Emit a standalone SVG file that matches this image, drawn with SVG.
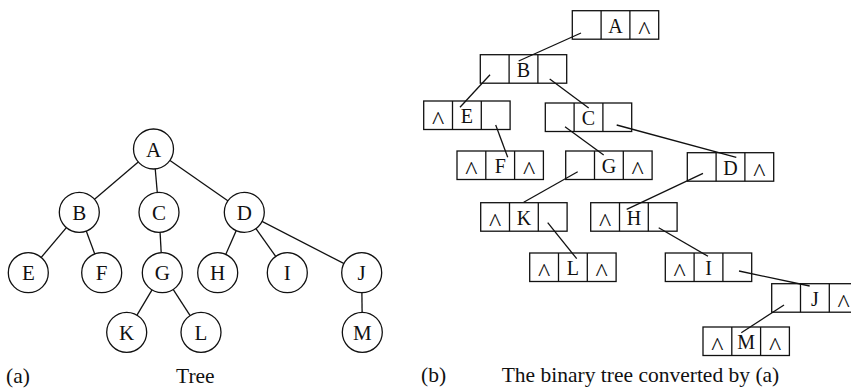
<svg xmlns="http://www.w3.org/2000/svg" xmlns:xlink="http://www.w3.org/1999/xlink" width="851" height="390" viewBox="0 0 851 390">
  <style>
    .edge { stroke: #111; stroke-width: 1.3; fill: none; }
    .circ { fill: #fff; stroke: #111; stroke-width: 1.3; }
    .box { fill: #fff; stroke: #111; stroke-width: 1.3; }
    .lbl { font-family: "Liberation Serif", "Times New Roman", serif; font-size: 20px; fill: #111; text-anchor: middle; }
    .clbl { font-family: "Liberation Serif", "Times New Roman", serif; font-size: 21px; fill: #111; text-anchor: middle; }
    .nil { font-family: "Liberation Serif", "Times New Roman", serif; font-size: 26px; fill: #111; text-anchor: middle; }
    .cap { font-family: "Liberation Serif", "Times New Roman", serif; font-size: 21.5px; fill: #111; }
  </style>
  <defs>
    <!-- three-field node: left child | data | right sibling -->
    <g id="cell3">
      <rect class="box" x="0" y="0" width="86.4" height="28.5"/>
      <line class="edge" x1="28.8" y1="0" x2="28.8" y2="28.5"/>
      <line class="edge" x1="57.6" y1="0" x2="57.6" y2="28.5"/>
    </g>
  </defs>
  <rect width="851" height="390" fill="#fff"/>

  <!-- (a) general tree -->
  <g id="tree-edges">
    <line class="edge" x1="153.5" y1="149" x2="79.3" y2="212.3"/>
    <line class="edge" x1="153.5" y1="149" x2="159" y2="212.3"/>
    <line class="edge" x1="153.5" y1="149" x2="244.3" y2="212.3"/>
    <line class="edge" x1="79.3" y1="212.3" x2="28.3" y2="272.7"/>
    <line class="edge" x1="79.3" y1="212.3" x2="101.7" y2="272.7"/>
    <line class="edge" x1="159" y1="212.3" x2="162.3" y2="272.7"/>
    <line class="edge" x1="244.3" y1="212.3" x2="217.7" y2="272.7"/>
    <line class="edge" x1="244.3" y1="212.3" x2="287.3" y2="272.7"/>
    <line class="edge" x1="244.3" y1="212.3" x2="361.7" y2="272.7"/>
    <line class="edge" x1="162.3" y1="272.7" x2="126.7" y2="332.3"/>
    <line class="edge" x1="162.3" y1="272.7" x2="201" y2="332.3"/>
    <line class="edge" x1="361.7" y1="272.7" x2="362.3" y2="332.3"/>
  </g>
  <g id="tA"><circle class="circ" cx="153.5" cy="149" r="20"/><text class="clbl" x="153.5" y="156.5">A</text></g>
  <g id="tB"><circle class="circ" cx="79.3" cy="212.3" r="20"/><text class="clbl" x="79.3" y="219.8">B</text></g>
  <g id="tC"><circle class="circ" cx="159" cy="212.3" r="20"/><text class="clbl" x="159" y="219.8">C</text></g>
  <g id="tD"><circle class="circ" cx="244.3" cy="212.3" r="20"/><text class="clbl" x="244.3" y="219.8">D</text></g>
  <g id="tE"><circle class="circ" cx="28.3" cy="272.7" r="20"/><text class="clbl" x="28.3" y="280.2">E</text></g>
  <g id="tF"><circle class="circ" cx="101.7" cy="272.7" r="20"/><text class="clbl" x="101.7" y="280.2">F</text></g>
  <g id="tG"><circle class="circ" cx="162.3" cy="272.7" r="20"/><text class="clbl" x="162.3" y="280.2">G</text></g>
  <g id="tH"><circle class="circ" cx="217.7" cy="272.7" r="20"/><text class="clbl" x="217.7" y="280.2">H</text></g>
  <g id="tI"><circle class="circ" cx="287.3" cy="272.7" r="20"/><text class="clbl" x="287.3" y="280.2">I</text></g>
  <g id="tJ"><circle class="circ" cx="361.7" cy="272.7" r="20"/><text class="clbl" x="361.7" y="280.2">J</text></g>
  <g id="tK"><circle class="circ" cx="126.7" cy="332.3" r="20"/><text class="clbl" x="126.7" y="339.8">K</text></g>
  <g id="tL"><circle class="circ" cx="201" cy="332.3" r="20"/><text class="clbl" x="201" y="339.8">L</text></g>
  <g id="tM"><circle class="circ" cx="362.3" cy="332.3" r="20"/><text class="clbl" x="362.3" y="339.8">M</text></g>

  <text class="cap" x="6" y="383">(a)</text>
  <text class="cap" x="176" y="383">Tree</text>

  <!-- (b) binary tree nodes (text baseline at +22, nil mark at +28) -->
  <g id="bA" transform="translate(572.3,10.7)"><use xlink:href="#cell3"/><text class="lbl" x="43.2" y="22">A</text><text class="nil" x="72" y="28">^</text></g>
  <g id="bB" transform="translate(480.3,54.7)"><use xlink:href="#cell3"/><text class="lbl" x="43.2" y="22">B</text></g>
  <g id="bE" transform="translate(423.7,101)"><use xlink:href="#cell3"/><text class="nil" x="14.4" y="28">^</text><text class="lbl" x="43.2" y="22">E</text></g>
  <g id="bC" transform="translate(545.3,103)"><use xlink:href="#cell3"/><text class="lbl" x="43.2" y="22">C</text></g>
  <g id="bF" transform="translate(457,151)"><use xlink:href="#cell3"/><text class="nil" x="14.4" y="28">^</text><text class="lbl" x="43.2" y="22">F</text><text class="nil" x="72" y="28">^</text></g>
  <g id="bG" transform="translate(565.7,151)"><use xlink:href="#cell3"/><text class="lbl" x="43.2" y="22">G</text><text class="nil" x="72" y="28">^</text></g>
  <g id="bD" transform="translate(687.3,152.7)"><use xlink:href="#cell3"/><text class="lbl" x="43.2" y="22">D</text><text class="nil" x="72" y="28">^</text></g>
  <g id="bK" transform="translate(480.7,202.7)"><use xlink:href="#cell3"/><text class="nil" x="14.4" y="28">^</text><text class="lbl" x="43.2" y="22">K</text></g>
  <g id="bH" transform="translate(590.7,202.7)"><use xlink:href="#cell3"/><text class="nil" x="14.4" y="28">^</text><text class="lbl" x="43.2" y="22">H</text></g>
  <g id="bL" transform="translate(529.7,253)"><use xlink:href="#cell3"/><text class="nil" x="14.4" y="28">^</text><text class="lbl" x="43.2" y="22">L</text><text class="nil" x="72" y="28">^</text></g>
  <g id="bI" transform="translate(665.3,253)"><use xlink:href="#cell3"/><text class="nil" x="14.4" y="28">^</text><text class="lbl" x="43.2" y="22">I</text></g>
  <g id="bJ" transform="translate(771.7,283.7)"><use xlink:href="#cell3"/><text class="lbl" x="43.2" y="22">J</text><text class="nil" x="72" y="28">^</text></g>
  <g id="bM" transform="translate(703,327)"><use xlink:href="#cell3"/><text class="nil" x="14.4" y="28">^</text><text class="lbl" x="43.2" y="22">M</text><text class="nil" x="72" y="28">^</text></g>

  <!-- (b) child / sibling pointers -->
  <g id="binary-edges">
    <line class="edge" x1="581" y1="33" x2="518.7" y2="61"/>
    <line class="edge" x1="490" y1="74.7" x2="460" y2="107.3"/>
    <line class="edge" x1="549.7" y1="79" x2="588.7" y2="108"/>
    <line class="edge" x1="495.7" y1="125" x2="507.7" y2="157.3"/>
    <line class="edge" x1="565" y1="126.7" x2="603.7" y2="155"/>
    <line class="edge" x1="616.7" y1="125" x2="736.3" y2="157.3"/>
    <line class="edge" x1="577.7" y1="171.7" x2="523.7" y2="202.3"/>
    <line class="edge" x1="703" y1="173.3" x2="626.7" y2="209.3"/>
    <line class="edge" x1="547.7" y1="222.7" x2="576.7" y2="258.7"/>
    <line class="edge" x1="658.7" y1="227.7" x2="708" y2="256.3"/>
    <line class="edge" x1="739" y1="271" x2="809.7" y2="286"/>
    <line class="edge" x1="784" y1="305" x2="741.3" y2="332.7"/>
  </g>

  <text class="cap" x="421" y="382">(b)</text>
  <text class="cap" x="501.7" y="382">The binary tree converted by (a)</text>
</svg>
